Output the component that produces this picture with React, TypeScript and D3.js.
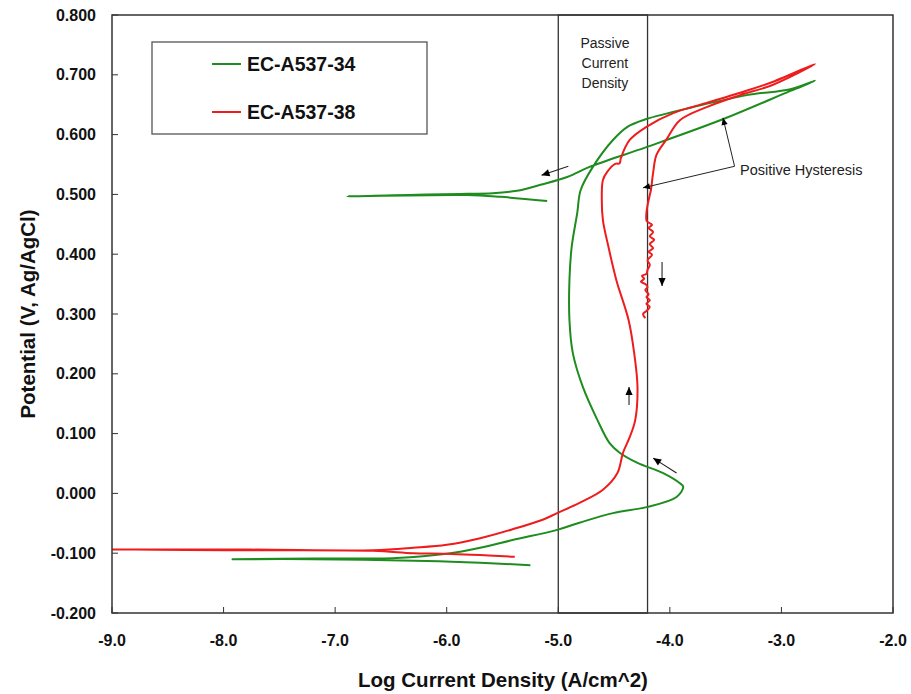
import React from "react";
import * as d3 from "d3";

const W = 911;
const H = 694;

const xTicks = [-9, -8, -7, -6, -5, -4, -3, -2];
const yTicks = [-0.2, -0.1, 0.0, 0.1, 0.2, 0.3, 0.4, 0.5, 0.6, 0.7, 0.8];

const seriesNames = ["EC-A537-34", "EC-A537-38"];
const seriesColors = ["#1e8c1e", "#ee1c1c"];

// EC-A537-34 (green): [log current density, potential]
const green34: [number, number][] = [
  [-5.25, -0.120], [-5.70, -0.116], [-6.18, -0.113], [-7.20, -0.110], [-7.92, -0.110],
  [-7.20, -0.109], [-6.45, -0.108], [-6.00, -0.101], [-5.70, -0.091], [-5.41, -0.078],
  [-5.01, -0.061], [-4.81, -0.049], [-4.51, -0.033], [-4.21, -0.023], [-3.94, -0.006],
  [-3.88, 0.011], [-3.91, 0.017], [-4.06, 0.034], [-4.29, 0.051], [-4.45, 0.068],
  [-4.54, 0.084], [-4.65, 0.123], [-4.78, 0.178], [-4.87, 0.235], [-4.90, 0.290],
  [-4.90, 0.357], [-4.88, 0.412], [-4.83, 0.469], [-4.80, 0.507], [-4.69, 0.546],
  [-4.51, 0.591], [-4.38, 0.613], [-4.21, 0.626], [-3.79, 0.646], [-3.31, 0.666],
  [-2.92, 0.676], [-2.70, 0.690],
  [-2.92, 0.673], [-3.52, 0.626], [-4.21, 0.579], [-4.72, 0.546], [-4.92, 0.529],
  [-5.16, 0.516], [-5.37, 0.506], [-5.59, 0.502], [-5.82, 0.501], [-6.89, 0.497],
  [-5.82, 0.499], [-5.52, 0.496], [-5.10, 0.489],
];

// EC-A537-38 (red)
const red38: [number, number][] = [
  [-5.39, -0.106], [-6.00, -0.101], [-6.30, -0.100], [-6.66, -0.096], [-7.76, -0.095], [-9.0, -0.094],
  [-7.76, -0.094], [-6.66, -0.095], [-6.30, -0.091], [-6.00, -0.086], [-5.70, -0.075],
  [-5.41, -0.060], [-5.14, -0.044], [-5.01, -0.033], [-4.81, -0.016], [-4.60, 0.006],
  [-4.47, 0.034], [-4.42, 0.068], [-4.36, 0.094], [-4.31, 0.123], [-4.29, 0.178],
  [-4.32, 0.235], [-4.37, 0.290], [-4.48, 0.357], [-4.55, 0.412],
  [-4.60, 0.457], [-4.61, 0.491], [-4.60, 0.524], [-4.56, 0.538], [-4.49, 0.551],
  [-4.45, 0.552], [-4.44, 0.560], [-4.36, 0.591], [-4.21, 0.613], [-3.97, 0.636],
  [-3.67, 0.653], [-3.37, 0.670], [-3.08, 0.688], [-2.70, 0.718],
  [-3.08, 0.683], [-3.37, 0.666], [-3.67, 0.646], [-3.91, 0.624], [-4.03, 0.592],
  [-4.12, 0.566], [-4.15, 0.536], [-4.17, 0.507], [-4.18, 0.499], [-4.20, 0.482],
  [-4.21, 0.469], [-4.21, 0.457], [-4.20, 0.454], [-4.16, 0.449], [-4.19, 0.444],
  [-4.15, 0.437], [-4.18, 0.430], [-4.14, 0.424], [-4.18, 0.417], [-4.15, 0.410],
  [-4.19, 0.404], [-4.16, 0.399], [-4.20, 0.390], [-4.18, 0.382], [-4.20, 0.374],
  [-4.21, 0.367], [-4.25, 0.364], [-4.23, 0.359], [-4.26, 0.354], [-4.22, 0.350],
  [-4.20, 0.345], [-4.22, 0.340], [-4.19, 0.333], [-4.21, 0.328], [-4.18, 0.323],
  [-4.21, 0.317], [-4.18, 0.312], [-4.21, 0.305], [-4.24, 0.300], [-4.22, 0.293],
];

const passiveBand = [-5.0, -4.2];
const passiveLabel = ["Passive", "Current", "Density"];

// arrows: [x1, y1, x2(tip), y2(tip)]
const arrows: [number, number, number, number][] = [
  [-4.91, 0.547, -5.15, 0.532],
  [-4.07, 0.387, -4.07, 0.347],
  [-4.366, 0.148, -4.366, 0.178],
  [-3.94, 0.034, -4.15, 0.059],
];
const hysteresisLabel = "Positive Hysteresis";
const hysteresisJoint: [number, number] = [-3.42, 0.547];
const hysteresisTips: [number, number][] = [
  [-3.524, 0.628],
  [-4.241, 0.511],
];

export default function App() {
  const left = 112, right = 893, top = 15, bottom = 613;
  const x = d3.scaleLinear().domain([-9, -2]).range([left, right]);
  const y = d3.scaleLinear().domain([-0.2, 0.8]).range([bottom, top]);
  const line = d3
    .line<[number, number]>()
    .x((d) => x(d[0]))
    .y((d) => y(d[1]))
    .curve(d3.curveCatmullRom.alpha(0.5));

  const arrowHead = (x1: number, y1: number, x2: number, y2: number, size = 8) => {
    const ang = Math.atan2(y2 - y1, x2 - x1);
    const w = size * 0.45;
    const bx = x2 - size * Math.cos(ang);
    const by = y2 - size * Math.sin(ang);
    const px = -Math.sin(ang) * w;
    const py = Math.cos(ang) * w;
    return `M${x2},${y2}L${bx + px},${by + py}L${bx - px},${by - py}Z`;
  };

  const font = "Arial, 'Liberation Sans', Helvetica, sans-serif";

  return (
    <svg
      width={W}
      height={H}
      style={{ position: "absolute", left: 0, top: 0, background: "#fff" }}
      fontFamily={font}
    >
      <rect x={0} y={0} width={W} height={H} fill="#fff" />
      <defs>
        <clipPath id="plotclip">
          <rect x={left} y={top} width={right - left} height={bottom - top} />
        </clipPath>
      </defs>

      {/* ticks */}
      {yTicks.map((t) => (
        <g key={"y" + t}>
          <line x1={left} x2={left + 6} y1={y(t)} y2={y(t)} stroke="#333" strokeWidth={1} />
          <text
            x={96}
            y={y(t)}
            textAnchor="end"
            dominantBaseline="central"
            fontSize={16}
            fontWeight="bold"
            fill="#111"
          >
            {t.toFixed(3)}
          </text>
        </g>
      ))}
      {xTicks.map((t) => (
        <g key={"x" + t}>
          <line x1={x(t)} x2={x(t)} y1={bottom} y2={bottom - 6} stroke="#333" strokeWidth={1} />
          <text
            x={x(t)}
            y={646}
            textAnchor="middle"
            fontSize={16}
            fontWeight="bold"
            fill="#111"
          >
            {t.toFixed(1)}
          </text>
        </g>
      ))}

      {/* passive band */}
      <rect
        x={x(passiveBand[0])}
        y={top}
        width={x(passiveBand[1]) - x(passiveBand[0])}
        height={bottom - top}
        fill="none"
        stroke="#333"
        strokeWidth={1.3}
      />
      {passiveLabel.map((s, i) => (
        <text
          key={s}
          x={(x(passiveBand[0]) + x(passiveBand[1])) / 2 + 2}
          y={43 + i * 20}
          textAnchor="middle"
          dominantBaseline="central"
          fontSize={14}
          fill="#222"
        >
          {s}
        </text>
      ))}

      {/* curves */}
      <g clipPath="url(#plotclip)">
        <path d={line(green34) || ""} fill="none" stroke={seriesColors[0]} strokeWidth={2} strokeLinejoin="round" />
        <path d={line(red38) || ""} fill="none" stroke={seriesColors[1]} strokeWidth={2} strokeLinejoin="round" />
      </g>

      {/* frame */}
      <rect x={left} y={top} width={right - left} height={bottom - top} fill="none" stroke="#333" strokeWidth={1.5} />

      {/* arrows */}
      {arrows.map((a, i) => {
        const x1 = x(a[0]), y1 = y(a[1]), x2 = x(a[2]), y2 = y(a[3]);
        return (
          <g key={"a" + i}>
            <line x1={x1} y1={y1} x2={x2} y2={y2} stroke="#222" strokeWidth={1.1} />
            <path d={arrowHead(x1, y1, x2, y2)} fill="#000" />
          </g>
        );
      })}
      {hysteresisTips.map((t, i) => {
        const x1 = x(hysteresisJoint[0]), y1 = y(hysteresisJoint[1]), x2 = x(t[0]), y2 = y(t[1]);
        return (
          <g key={"h" + i}>
            <line x1={x1} y1={y1} x2={x2} y2={y2} stroke="#222" strokeWidth={1} />
            <path d={arrowHead(x1, y1, x2, y2, 7)} fill="#000" />
          </g>
        );
      })}
      <text x={740} y={170} dominantBaseline="central" fontSize={14.5} fill="#222">
        {hysteresisLabel}
      </text>

      {/* legend */}
      <rect x={152} y={42} width={275} height={92} fill="#fff" stroke="#555" strokeWidth={1.3} />
      {seriesNames.map((n, i) => (
        <g key={n}>
          <line x1={212} x2={241} y1={64 + i * 48} y2={64 + i * 48} stroke={seriesColors[i]} strokeWidth={2} />
          <text x={247} y={64 + i * 48} dominantBaseline="central" fontSize={19.5} fontWeight="bold" fill="#111">
            {n}
          </text>
        </g>
      ))}

      {/* axis titles */}
      <text x={503} y={687} textAnchor="middle" fontSize={20.5} fontWeight="bold" fill="#111">
        Log Current Density (A/cm^2)
      </text>
      <text
        transform={`translate(27,${(top + bottom) / 2}) rotate(-90)`}
        textAnchor="middle"
        dominantBaseline="central"
        fontSize={20.5}
        fontWeight="bold"
        fill="#111"
      >
        Potential (V, Ag/AgCl)
      </text>
    </svg>
  );
}
